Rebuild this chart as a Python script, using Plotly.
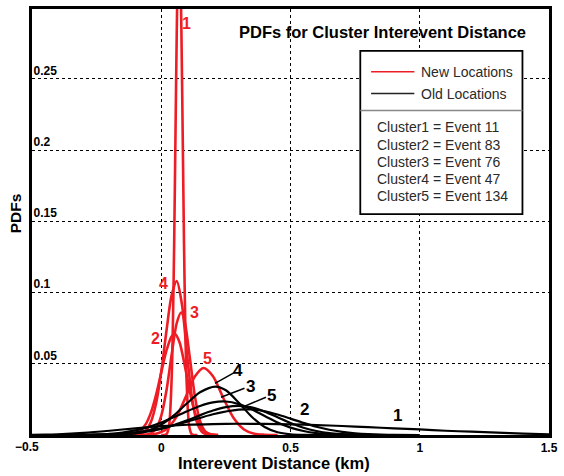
import plotly.graph_objects as go

# ---------------- data ----------------
# New locations (red)
r1_x = [0.000, 0.020, 0.030, 0.040, 0.045, 0.050, 0.055, 0.060, 0.065, 0.069, 0.073, 0.078, 0.083, 0.088, 0.093, 0.098, 0.108, 0.118, 0.140]
r1_y = [0.0000, 0.0006, 0.0064, 0.0387, 0.077, 0.135, 0.210, 0.283, 0.336, 0.350, 0.336, 0.283, 0.210, 0.135, 0.077, 0.0387, 0.0064, 0.0006, 0.0000]

r2_x = [-0.18, -0.14, -0.12, -0.10, -0.08, -0.06, -0.04, -0.02, 0.00, 0.02, 0.04, 0.052, 0.07, 0.09, 0.11, 0.13, 0.15, 0.17, 0.19, 0.22]
r2_y = [0.0000, 0.0001, 0.0004, 0.0012, 0.0032, 0.0076, 0.0157, 0.0282, 0.0439, 0.0592, 0.0692, 0.0710, 0.0655, 0.0497, 0.0310, 0.0158, 0.0066, 0.0023, 0.0006, 0.0000]

r3_x = [-0.09, -0.06, -0.04, -0.02, 0.00, 0.02, 0.04, 0.06, 0.077, 0.09, 0.11, 0.13, 0.15, 0.17, 0.19, 0.22]
r3_y = [0.0000, 0.0002, 0.0012, 0.0045, 0.0135, 0.0310, 0.0561, 0.0786, 0.0860, 0.0803, 0.0550, 0.0273, 0.0098, 0.0025, 0.0005, 0.0000]

r4_x = [-0.13, -0.10, -0.08, -0.06, -0.04, -0.02, 0.00, 0.02, 0.04, 0.060, 0.08, 0.10, 0.12, 0.14, 0.16, 0.18, 0.21]
r4_y = [0.0000, 0.0002, 0.0009, 0.0031, 0.0092, 0.0223, 0.0444, 0.0728, 0.0978, 0.1080, 0.0917, 0.0562, 0.0248, 0.0079, 0.0018, 0.0003, 0.0000]

r5_x = [-0.10, -0.06, -0.02, 0.02, 0.06, 0.10, 0.13, 0.164, 0.20, 0.24, 0.28, 0.32, 0.36, 0.40, 0.45]
r5_y = [0.0000, 0.0001, 0.0009, 0.0040, 0.0131, 0.0289, 0.0410, 0.0470, 0.0412, 0.0260, 0.0119, 0.0039, 0.0009, 0.0002, 0.0000]

# Old locations (black)
b1_x = [-0.50, -0.45, -0.40, -0.30, -0.20, -0.10, 0.00, 0.10, 0.20, 0.30, 0.40, 0.50, 0.60, 0.70, 0.80, 0.90, 1.00, 1.10, 1.20, 1.30, 1.40, 1.50]
b1_y = [0.0001, 0.0002, 0.0005, 0.0015, 0.0030, 0.0047, 0.0062, 0.0072, 0.0077, 0.0079, 0.0078, 0.0075, 0.0070, 0.0063, 0.0055, 0.0047, 0.0039, 0.0030, 0.0023, 0.0017, 0.0010, 0.0005]

b2_x = [-0.40, -0.30, -0.20, -0.10, 0.00, 0.10, 0.20, 0.30, 0.35, 0.40, 0.45, 0.50, 0.55, 0.60, 0.65, 0.70, 0.75, 0.80, 0.85, 0.90, 1.00]
b2_y = [0.0000, 0.0001, 0.0005, 0.0018, 0.0046, 0.0093, 0.0146, 0.0178, 0.0179, 0.0167, 0.0144, 0.0115, 0.0085, 0.0058, 0.0037, 0.0022, 0.0012, 0.0006, 0.0003, 0.0001, 0.0000]

b3_x = [-0.40, -0.30, -0.25, -0.20, -0.15, -0.10, -0.05, 0.00, 0.05, 0.10, 0.15, 0.20, 0.25, 0.30, 0.35, 0.40, 0.45, 0.50, 0.55, 0.60, 0.65, 0.70, 0.75, 0.85]
b3_y = [0.0000, 0.0002, 0.0004, 0.0008, 0.0017, 0.0032, 0.0055, 0.0087, 0.0126, 0.0167, 0.0204, 0.0229, 0.0235, 0.0217, 0.0180, 0.0133, 0.0088, 0.0052, 0.0028, 0.0013, 0.0006, 0.0002, 0.0001, 0.0000]

b4_x = [-0.30, -0.25, -0.20, -0.15, -0.10, -0.05, 0.00, 0.05, 0.10, 0.15, 0.21, 0.25, 0.30, 0.35, 0.40, 0.45, 0.50, 0.55, 0.65]
b4_y = [0.0000, 0.0000, 0.0001, 0.0004, 0.0012, 0.0032, 0.0073, 0.0140, 0.0223, 0.0300, 0.0340, 0.0314, 0.0227, 0.0128, 0.0056, 0.0019, 0.0005, 0.0001, 0.0000]

b5_x = [-0.40, -0.30, -0.20, -0.10, -0.05, 0.00, 0.05, 0.10, 0.15, 0.20, 0.25, 0.30, 0.35, 0.40, 0.45, 0.50, 0.55, 0.60, 0.65, 0.70, 0.75, 0.85]
b5_y = [0.0000, 0.0000, 0.0003, 0.0013, 0.0025, 0.0043, 0.0070, 0.0103, 0.0139, 0.0172, 0.0196, 0.0205, 0.0194, 0.0164, 0.0124, 0.0084, 0.0051, 0.0028, 0.0013, 0.0006, 0.0002, 0.0000]

y_ticks = [0.05, 0.1, 0.15, 0.2, 0.25]
y_tick_text = ["0.05", "0.1", "0.15", "0.2", "0.25"]
x_ticks = [-0.5, 0, 0.5, 1, 1.5]
x_tick_text = ["\u22120.5", "0", "0.5", "1", "1.5"]

legend_names = ["New Locations", "Old Locations"]
cluster_text = ["Cluster1 = Event 11", "Cluster2 = Event 83", "Cluster3 = Event 76",
                "Cluster4 = Event 47", "Cluster5 = Event 134"]

# ---------------- styling / layout ----------------
W, H = 564, 476
L, R, T, B = 32, 558, 7, 435
RED = "#ee1d25"
BOLD = "Liberation Sans, Arial, Helvetica, sans-serif"
REG = "Liberation Sans, Arial, Helvetica, sans-serif"
LEG_TXT = "#2a2a2a"


def px(xp):
    return (xp - L) / (R - L)


def py(yp):
    return (B - yp) / (B - T)


fig = go.Figure()

new_curves = [(r1_x, r1_y), (r2_x, r2_y), (r3_x, r3_y), (r4_x, r4_y), (r5_x, r5_y)]
old_curves = [(b1_x, b1_y), (b2_x, b2_y), (b3_x, b3_y), (b4_x, b4_y), (b5_x, b5_y)]

for i, (xs, ys) in enumerate(new_curves):
    fig.add_trace(go.Scatter(x=xs, y=ys, mode="lines",
                             line=dict(color=RED, width=2.6, shape="spline", smoothing=0.8),
                             name=legend_names[0], legendgroup="new", showlegend=False))
for i, (xs, ys) in enumerate(old_curves):
    fig.add_trace(go.Scatter(x=xs, y=ys, mode="lines",
                             line=dict(color="black", width=2.2, shape="spline", smoothing=0.8),
                             name=legend_names[1], legendgroup="old", showlegend=False))

annotations = []
# curve labels (new locations, red)
red_labels = [("1", 0.097, 0.2886), ("2", -0.022, 0.0675), ("3", 0.130, 0.0861),
              ("4", 0.009, 0.1064), ("5", 0.177, 0.0536)]
for t, x, y in red_labels:
    annotations.append(dict(x=x, y=y, xref="x", yref="y", text=t, showarrow=False,
                            xanchor="center", yanchor="middle",
                            font=dict(family=REG, size=16, color=RED, weight="bold")))
black_labels = [("1", 0.915, 0.0140), ("2", 0.553, 0.0179), ("3", 0.344, 0.0342),
                ("4", 0.297, 0.0454), ("5", 0.427, 0.0279)]
for t, x, y in black_labels:
    annotations.append(dict(x=x, y=y, xref="x", yref="y", text=t, showarrow=False,
                            xanchor="center", yanchor="middle",
                            font=dict(family=REG, size=17, color="black", weight="bold")))

# title and axis titles
annotations.append(dict(x=px(389), y=py(30), xref="paper", yref="paper",
                        text="PDFs for Cluster Interevent Distance", showarrow=False,
                        xanchor="center", yanchor="middle",
                        font=dict(family=BOLD, size=16.5, color="black", weight="bold")))
annotations.append(dict(x=px(278), y=py(463), xref="paper", yref="paper",
                        text="Interevent Distance (km)", showarrow=False,
                        xanchor="center", yanchor="middle",
                        font=dict(family=BOLD, size=16.5, color="black", weight="bold")))
annotations.append(dict(x=px(15), y=py(212), xref="paper", yref="paper",
                        text="PDFs", showarrow=False, textangle=-90,
                        xanchor="center", yanchor="middle",
                        font=dict(family=BOLD, size=15.5, color="black", weight="bold")))
# leftmost x tick label (drawn as text, plotly hides it next to inside y labels)
annotations.append(dict(x=px(27), y=py(447), xref="paper", yref="paper",
                        text=x_tick_text[0], showarrow=False,
                        xanchor="center", yanchor="middle",
                        font=dict(family=REG, size=12, color="black", weight="bold")))

# legend texts
for k, t in enumerate(legend_names):
    annotations.append(dict(x=px(426), y=py(70 + 22 * k), xref="paper", yref="paper",
                            text=t, showarrow=False, xanchor="left", yanchor="middle",
                            font=dict(family=REG, size=14, color=LEG_TXT)))
for k, t in enumerate(cluster_text):
    annotations.append(dict(x=px(381), y=py(126 + 17.2 * k), xref="paper", yref="paper",
                            text=t, showarrow=False, xanchor="left", yanchor="middle",
                            font=dict(family=REG, size=14, color=LEG_TXT)))

shapes = [
    # legend box
    dict(type="rect", xref="paper", yref="paper", x0=px(366), x1=px(531), y0=py(213), y1=py(49),
         line=dict(color="black", width=1.8), fillcolor="white", layer="above"),
    dict(type="line", xref="paper", yref="paper", x0=px(366), x1=px(531), y0=py(109), y1=py(109),
         line=dict(color="#888888", width=1.5), layer="above"),
    dict(type="line", xref="paper", yref="paper", x0=px(377), x1=px(421), y0=py(70), y1=py(70),
         line=dict(color=RED, width=1.5), layer="above"),
    dict(type="line", xref="paper", yref="paper", x0=px(377), x1=px(421), y0=py(92), y1=py(92),
         line=dict(color="#222222", width=1.5), layer="above"),
    # pointer lines for black labels
    dict(type="line", xref="x", yref="y", x0=0.208, y0=0.0363, x1=0.284, y1=0.0440,
         line=dict(color="black", width=1.5)),
    dict(type="line", xref="x", yref="y", x0=0.231, y0=0.0265, x1=0.322, y1=0.0328,
         line=dict(color="black", width=1.5)),
    dict(type="line", xref="x", yref="y", x0=0.314, y0=0.0196, x1=0.405, y1=0.0265,
         line=dict(color="black", width=1.5)),
]

fig.update_layout(
    width=W, height=H,
    margin=dict(l=L, r=W - R, t=T, b=H - B),
    paper_bgcolor="white", plot_bgcolor="white",
    showlegend=False,
    annotations=annotations,
    shapes=shapes,
)

fig.update_xaxes(range=[-0.5, 1.5], tickvals=x_ticks[1:], ticktext=x_tick_text[1:],
                 showgrid=True, gridcolor="black", griddash="dot", gridwidth=1,
                 zeroline=False, showline=True, linecolor="black", linewidth=2.5, mirror=True,
                 ticks="", tickfont=dict(family=REG, size=12, color="black", weight="bold"))
fig.update_yaxes(range=[0, 0.299], tickvals=y_ticks, ticktext=y_tick_text,
                 showgrid=True, gridcolor="black", griddash="dot", gridwidth=1,
                 zeroline=False, showline=True, linecolor="black", linewidth=2.5, mirror=True,
                 ticks="", ticklabelposition="inside top",
                 tickfont=dict(family=REG, size=12, color="black", weight="bold"))

fig.write_html("out.html")
